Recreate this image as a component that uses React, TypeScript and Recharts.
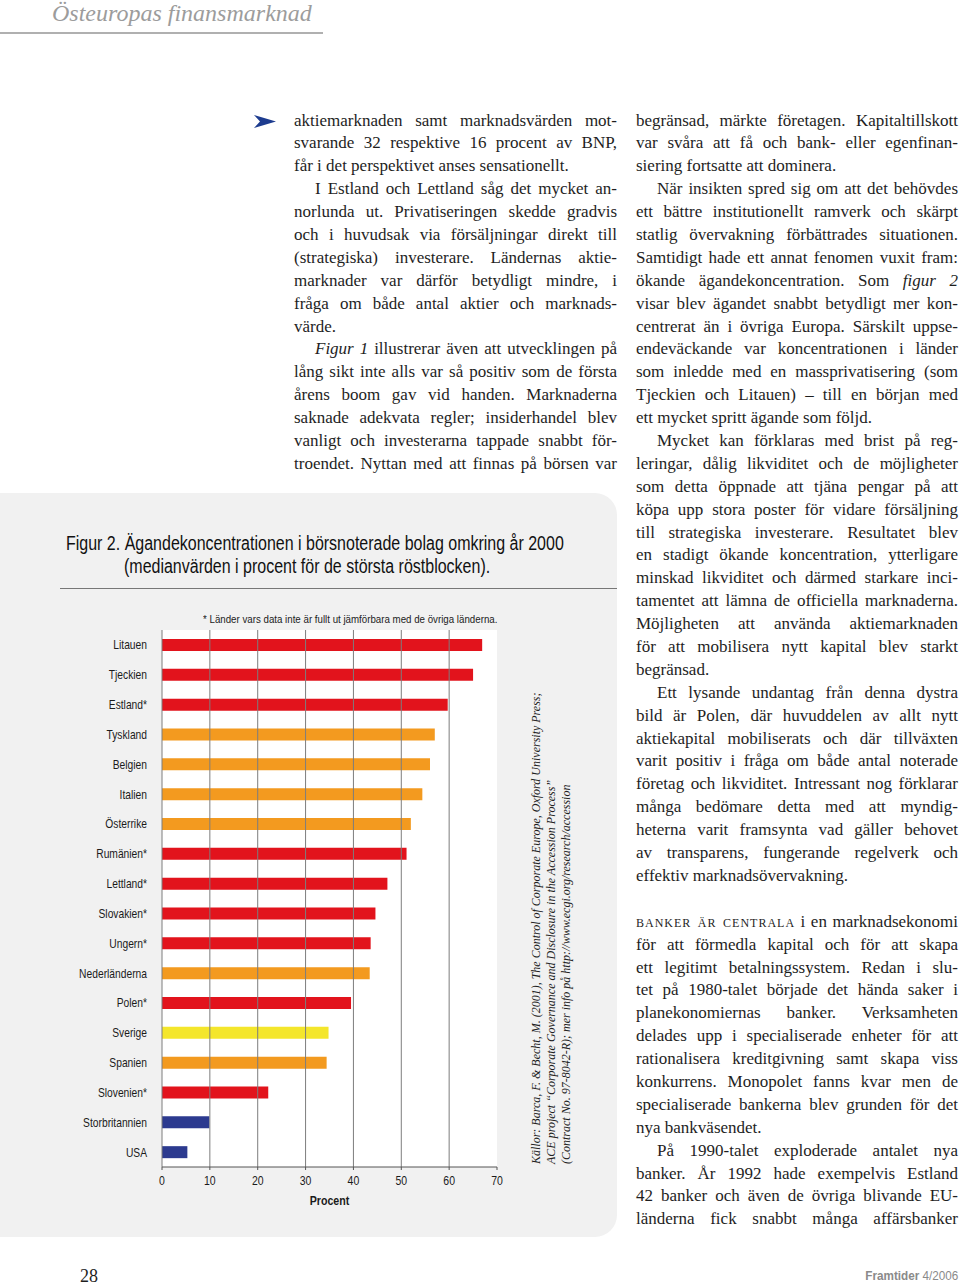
import React from "react";
import {
  BarChart,
  Bar,
  XAxis,
  YAxis,
  CartesianGrid,
  ReferenceLine,
  Cell,
} from "recharts";

// chart data (median share of the largest voting block, %)
const countries = [
  "Litauen",
  "Tjeckien",
  "Estland*",
  "Tyskland",
  "Belgien",
  "Italien",
  "Österrike",
  "Rumänien*",
  "Lettland*",
  "Slovakien*",
  "Ungern*",
  "Nederländerna",
  "Polen*",
  "Sverige",
  "Spanien",
  "Slovenien*",
  "Storbritannien",
  "USA",
];
const shares = [
  66.9, 65.0, 59.7, 57.0, 56.0, 54.4, 52.0, 51.1, 47.1, 44.6, 43.6, 43.4, 39.5,
  34.8, 34.4, 22.2, 9.9, 5.3,
];
const groups = [
  "east", "east", "east", "west", "west", "west", "west", "east", "east",
  "east", "east", "west", "east", "swe", "west", "east", "anglo", "anglo",
];
const axisTicks = [0, 10, 20, 30, 40, 50, 60, 70];
const gridTicks = [0, 10, 20, 30, 40, 50, 60];

const groupColors: Record<string, string> = {
  east: "#e2131c",
  west: "#f39a1f",
  swe: "#f4e62b",
  anglo: "#2c3a8f",
};

// page text, one entry per printed line
// "~" = paragraph indent, "|" at end = last line of paragraph, "" = blank line
const middleColumn = [
  "aktiemarknaden samt marknadsvärden mot-",
  "svarande 32 respektive 16 procent av BNP,",
  "får i det perspektivet anses sensationellt.|",
  "~I Estland och Lettland såg det mycket an-",
  "norlunda ut. Privatiseringen skedde gradvis",
  "och i huvudsak via försäljningar direkt till",
  "(strategiska) investerare. Ländernas aktie-",
  "marknader var därför betydligt mindre, i",
  "fråga om både antal aktier och marknads-",
  "värde.|",
  "~_Figur 1_ illustrerar även att utvecklingen på",
  "lång sikt inte alls var så positiv som de första",
  "årens boom gav vid handen. Marknaderna",
  "saknade adekvata regler; insiderhandel blev",
  "vanligt och investerarna tappade snabbt för-",
  "troendet. Nyttan med att finnas på börsen var",
];

const rightColumn = [
  "begränsad, märkte företagen. Kapitaltillskott",
  "var svåra att få och bank- eller egenfinan-",
  "siering fortsatte att dominera.|",
  "~När insikten spred sig om att det behövdes",
  "ett bättre institutionellt ramverk och skärpt",
  "statlig övervakning förbättrades situationen.",
  "Samtidigt hade ett annat fenomen vuxit fram:",
  "ökande ägandekoncentration. Som _figur 2_",
  "visar blev ägandet snabbt betydligt mer kon-",
  "centrerat än i övriga Europa. Särskilt uppse-",
  "endeväckande var koncentrationen i länder",
  "som inledde med en massprivatisering (som",
  "Tjeckien och Litauen) – till en början med",
  "ett mycket spritt ägande som följd.|",
  "~Mycket kan förklaras med brist på reg-",
  "leringar, dålig likviditet och de möjligheter",
  "som detta öppnade att tjäna pengar på att",
  "köpa upp stora poster för vidare försäljning",
  "till strategiska investerare. Resultatet blev",
  "en stadigt ökande koncentration, ytterligare",
  "minskad likviditet och därmed starkare inci-",
  "tamentet att lämna de officiella marknaderna.",
  "Möjligheten att använda aktiemarknaden",
  "för att mobilisera nytt kapital blev starkt",
  "begränsad.|",
  "~Ett lysande undantag från denna dystra",
  "bild är Polen, där huvuddelen av allt nytt",
  "aktiekapital mobiliserats och där tillväxten",
  "varit positiv i fråga om både antal noterade",
  "företag och likviditet. Intressant nog förklarar",
  "många bedömare detta med att myndig-",
  "heterna varit framsynta vad gäller behovet",
  "av transparens, fungerande regelverk och",
  "effektiv marknadsövervakning.|",
  "",
  "^banker är centrala^ i en marknadsekonomi",
  "för att förmedla kapital och för att skapa",
  "ett legitimt betalningssystem. Redan i slu-",
  "tet på 1980-talet började det hända saker i",
  "planekonomiernas banker. Verksamheten",
  "delades upp i specialiserade enheter för att",
  "rationalisera kreditgivning samt skapa viss",
  "konkurrens. Monopolet fanns kvar men de",
  "specialiserade bankerna blev grunden för det",
  "nya bankväsendet.|",
  "~På 1990-talet exploderade antalet nya",
  "banker. År 1992 hade exempelvis Estland",
  "42 banker och även de övriga blivande EU-",
  "länderna fick snabbt många affärsbanker",
];

const sourceLines = [
  "Källor: Barca, F. & Becht, M. (2001), The Control of Corporate Europe, Oxford University Press;",
  "ACE project “Corporate Governance and Disclosure in the Accession Process”",
  "(Contract No. 97-8042-R); mer info på http://www.ecgi.org/research/accession",
];

const chartData = countries.map((name, i) => ({
  name,
  value: shares[i],
  group: groups[i],
}));

const SERIF = "'Liberation Serif', 'DejaVu Serif', serif";
const SANS = "'Liberation Sans', Arial, sans-serif";
const SQUEEZE = 0.82; // stands in for the condensed sans of the original
const LINE_H = 22.9;

function rich(s: string) {
  const parts = s.split(/(_[^_]+_|\^[^^]+\^)/);
  return parts.map((p, i) => {
    if (p.startsWith("_")) return <i key={i}>{p.slice(1, -1)}</i>;
    if (p.startsWith("^"))
      return (
        <span key={i} style={{ fontVariant: "small-caps", letterSpacing: 1 }}>
          {p.slice(1, -1)}
        </span>
      );
    return <React.Fragment key={i}>{p}</React.Fragment>;
  });
}

function TextColumn({ lines, left, width }: { lines: string[]; left: number; width: number }) {
  return (
    <div style={{ position: "absolute", left, top: 121 - LINE_H / 2, width }}>
      {lines.map((raw, i) => {
        let s = raw;
        const indent = s.startsWith("~");
        if (indent) s = s.slice(1);
        const last = s.endsWith("|");
        if (last) s = s.slice(0, -1);
        return (
          <div
            key={i}
            style={{
              height: LINE_H,
              lineHeight: `${LINE_H}px`,
              whiteSpace: "nowrap",
              wordSpacing: last ? 0 : -1,
              textAlign: last ? "left" : "justify",
              textAlignLast: last ? "left" : "justify",
              paddingLeft: indent ? 21 : 0,
            }}
          >
            {s === "" ? "\u00a0" : rich(s)}
          </div>
        );
      })}
    </div>
  );
}

const CountryTick = (props: any) => {
  const { x, y, payload } = props;
  return (
    <g transform={`translate(${x},${y}) scale(0.79,1)`}>
      <text textAnchor="end" dy="0.35em" fontFamily={SANS} fontSize={13} fill="#1b1b1b">
        {payload.value}
      </text>
    </g>
  );
};

const NumberTick = (props: any) => {
  const { x, y, payload } = props;
  return (
    <g transform={`translate(${x},${y}) scale(0.84,1)`}>
      <text textAnchor="middle" dy="0.71em" fontFamily={SANS} fontSize={12.5} fill="#1b1b1b">
        {payload.value}
      </text>
    </g>
  );
};

const AxisTitle = (props: any) => {
  const vb = props.viewBox || {};
  const cx = vb.x + vb.width / 2;
  const cy = vb.y + vb.height - 2;
  return (
    <g transform={`translate(${cx},${cy}) scale(${SQUEEZE},1)`}>
      <text textAnchor="middle" fontFamily={SANS} fontSize={13} fontWeight="bold" fill="#1b1b1b">
        Procent
      </text>
    </g>
  );
};

export default function App() {
  return (
    <div
      style={{
        position: "absolute",
        left: 0,
        top: 0,
        width: 960,
        height: 1285,
        background: "#fff",
        overflow: "hidden",
        fontFamily: SERIF,
        fontSize: 17,
        color: "#1e1e1e",
      }}
    >
      {/* running head */}
      <div
        style={{
          position: "absolute",
          left: 52,
          top: 0,
          fontSize: 24,
          fontStyle: "italic",
          color: "#9c9c9c",
          lineHeight: "26px",
        }}
      >
        Östeuropas finansmarknad
      </div>
      <div style={{ position: "absolute", left: 0, top: 32, width: 323, height: 2, background: "#b0b0b0" }} />

      {/* arrow */}
      <svg style={{ position: "absolute", left: 254, top: 115 }} width={22} height={13}>
        <polygon points="0,0 22,6.5 0,13 6,6.5" fill="#1d3c8f" />
      </svg>

      <TextColumn lines={middleColumn} left={294} width={323} />
      <TextColumn lines={rightColumn} left={636} width={322} />

      {/* figure panel */}
      <div
        style={{
          position: "absolute",
          left: 0,
          top: 493,
          width: 617,
          height: 744,
          background: "#f1f1f1",
          borderRadius: "0 22px 22px 0",
        }}
      />
      <div
        style={{
          position: "absolute",
          left: 66,
          top: 532,
          fontFamily: SANS,
          fontSize: 19.5,
          lineHeight: "23px",
          color: "#111",
          whiteSpace: "nowrap",
          transformOrigin: "0 0",
          transform: `scaleX(${SQUEEZE})`,
        }}
      >
        <div>Figur 2. Ägandekoncentrationen i börsnoterade bolag omkring år 2000</div>
        <div style={{ paddingLeft: 58 / SQUEEZE }}>
          (medianvärden i procent för de största röstblocken).
        </div>
      </div>
      <div style={{ position: "absolute", left: 60, top: 588, width: 557, height: 1, background: "#777" }} />
      <div
        style={{
          position: "absolute",
          left: 203,
          top: 611,
          fontFamily: SANS,
          fontSize: 11.5,
          lineHeight: "16px",
          color: "#222",
          whiteSpace: "nowrap",
          transformOrigin: "0 0",
          transform: "scaleX(0.845)",
        }}
      >
        * Länder vars data inte är fullt ut jämförbara med de övriga länderna.
      </div>

      <div style={{ position: "absolute", left: 0, top: 600 }}>
        <BarChart
          width={620}
          height={640}
          data={chartData}
          layout="vertical"
          margin={{ top: 30, right: 123, bottom: 33, left: 0 }}
        >
          <CartesianGrid fill="#ffffff" fillOpacity={1} horizontal={false} vertical={false} />
          <XAxis
            type="number"
            domain={[0, 70]}
            ticks={axisTicks}
            height={40}
            tickSize={3}
            tickMargin={6}
            stroke="#555"
            tick={<NumberTick />}
            label={<AxisTitle />}
          />
          <YAxis
            type="category"
            dataKey="name"
            width={162}
            axisLine={false}
            tickLine={false}
            tickSize={0}
            tickMargin={15}
            interval={0}
            tick={<CountryTick />}
          />
          {gridTicks.map((t) => (
            <ReferenceLine key={t} x={t} stroke="#7d7d7d" strokeWidth={1} />
          ))}
          <Bar dataKey="value" barSize={12} isAnimationActive={false}>
            {chartData.map((d, i) => (
              <Cell key={i} fill={groupColors[d.group]} />
            ))}
          </Bar>
        </BarChart>
      </div>

      {/* rotated source note */}
      <div
        style={{
          position: "absolute",
          left: 529,
          top: 1164,
          width: 480,
          transformOrigin: "0 0",
          transform: "rotate(-90deg)",
          fontStyle: "italic",
          fontSize: 12,
          lineHeight: "15px",
          color: "#222",
          whiteSpace: "nowrap",
        }}
      >
        {sourceLines.map((l, i) => (
          <div key={i}>{l}</div>
        ))}
      </div>

      {/* footer */}
      <div style={{ position: "absolute", left: 80, top: 1264, fontSize: 18, lineHeight: "24px" }}>28</div>
      <div
        style={{
          position: "absolute",
          right: 2,
          top: 1268,
          fontFamily: SANS,
          fontSize: 13,
          lineHeight: "16px",
          color: "#8a8a8a",
          transformOrigin: "100% 0",
          transform: "scaleX(0.9)",
        }}
      >
        <span style={{ fontWeight: "bold" }}>Framtider</span> 4/2006
      </div>
    </div>
  );
}
